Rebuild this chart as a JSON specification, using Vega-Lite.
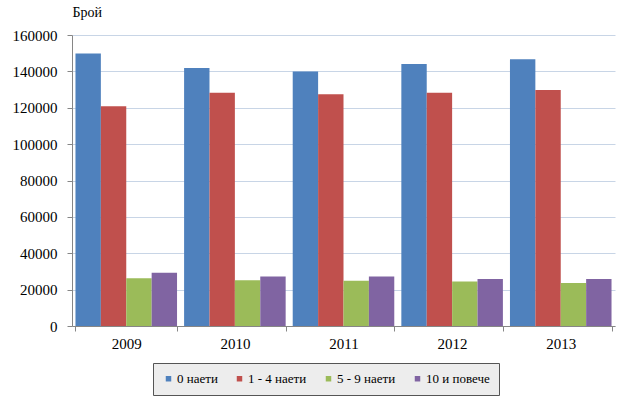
{
  "$schema": "https://vega.github.io/schema/vega-lite/v6.json",
  "width": 543,
  "height": 291,
  "autosize": "none",
  "padding": {"left": 72, "top": 35, "right": 15, "bottom": 72},
  "background": "white",
  "config": {
    "font": "Liberation Serif",
    "axis": {"labelFont": "Liberation Serif", "titleFont": "Liberation Serif"},
    "legend": {"labelFont": "Liberation Serif"},
    "view": {"stroke": null}
  },
  "data": {
    "values": [
      {"year": "2009", "cat": "0 наети", "value": 149800},
      {"year": "2009", "cat": "1 - 4 наети", "value": 120800},
      {"year": "2009", "cat": "5 - 9 наети", "value": 26300},
      {"year": "2009", "cat": "10 и повече", "value": 29300},
      {"year": "2010", "cat": "0 наети", "value": 141800},
      {"year": "2010", "cat": "1 - 4 наети", "value": 128200},
      {"year": "2010", "cat": "5 - 9 наети", "value": 25200},
      {"year": "2010", "cat": "10 и повече", "value": 27200},
      {"year": "2011", "cat": "0 наети", "value": 139900},
      {"year": "2011", "cat": "1 - 4 наети", "value": 127400},
      {"year": "2011", "cat": "5 - 9 наети", "value": 24900},
      {"year": "2011", "cat": "10 и повече", "value": 27200},
      {"year": "2012", "cat": "0 наети", "value": 144000},
      {"year": "2012", "cat": "1 - 4 наети", "value": 128300},
      {"year": "2012", "cat": "5 - 9 наети", "value": 24400},
      {"year": "2012", "cat": "10 и повече", "value": 25900},
      {"year": "2013", "cat": "0 наети", "value": 146600},
      {"year": "2013", "cat": "1 - 4 наети", "value": 129700},
      {"year": "2013", "cat": "5 - 9 наети", "value": 23600},
      {"year": "2013", "cat": "10 и повече", "value": 25900}
    ]
  },
  "mark": {"type": "bar"},
  "encoding": {
    "x": {
      "field": "year",
      "type": "nominal",
      "scale": {"paddingInner": 0.065, "paddingOuter": 0.032},
      "axis": {
        "title": null,
        "labelAngle": 0,
        "labelFontSize": 15,
        "labelColor": "#000",
        "labelPadding": 5,
        "tickBand": "extent",
        "tickSize": 5,
        "tickColor": "#868686",
        "domainColor": "#868686",
        "grid": false
      }
    },
    "xOffset": {
      "field": "cat",
      "type": "nominal",
      "sort": ["0 наети", "1 - 4 наети", "5 - 9 наети", "10 и повече"],
      "scale": {"paddingInner": 0, "paddingOuter": 0}
    },
    "y": {
      "field": "value",
      "type": "quantitative",
      "scale": {"domain": [0, 160000], "nice": false},
      "axis": {
        "title": "Брой",
        "titleAngle": 0,
        "titleX": 0,
        "titleY": -19,
        "titleAlign": "left",
        "titleBaseline": "alphabetic",
        "titleFontSize": 14,
        "titleFontWeight": "normal",
        "titleColor": "#000",
        "values": [0, 20000, 40000, 60000, 80000, 100000, 120000, 140000, 160000],
        "format": "d",
        "labelFontSize": 15,
        "labelColor": "#000",
        "labelPadding": 10,
        "tickSize": 5,
        "tickColor": "#868686",
        "domainColor": "#868686",
        "gridColor": "#c8d5e6",
        "gridWidth": 1
      }
    },
    "color": {
      "field": "cat",
      "type": "nominal",
      "sort": ["0 наети", "1 - 4 наети", "5 - 9 наети", "10 и повече"],
      "scale": {
        "domain": ["0 наети", "1 - 4 наети", "5 - 9 наети", "10 и повече"],
        "range": ["#4f81bd", "#c0504d", "#9bbb59", "#8064a2"]
      },
      "legend": {
        "title": null,
        "orient": "none",
        "legendX": 81,
        "legendY": 328,
        "direction": "horizontal",
        "columns": 4,
        "columnPadding": 15,
        "symbolType": "square",
        "symbolSize": 30,
        "symbolStrokeWidth": 0,
        "labelFontSize": 13,
        "labelColor": "#000",
        "labelOffset": 2,
        "padding": 9,
        "fillColor": "#ededed",
        "strokeColor": "#555555"
      }
    }
  }
}
